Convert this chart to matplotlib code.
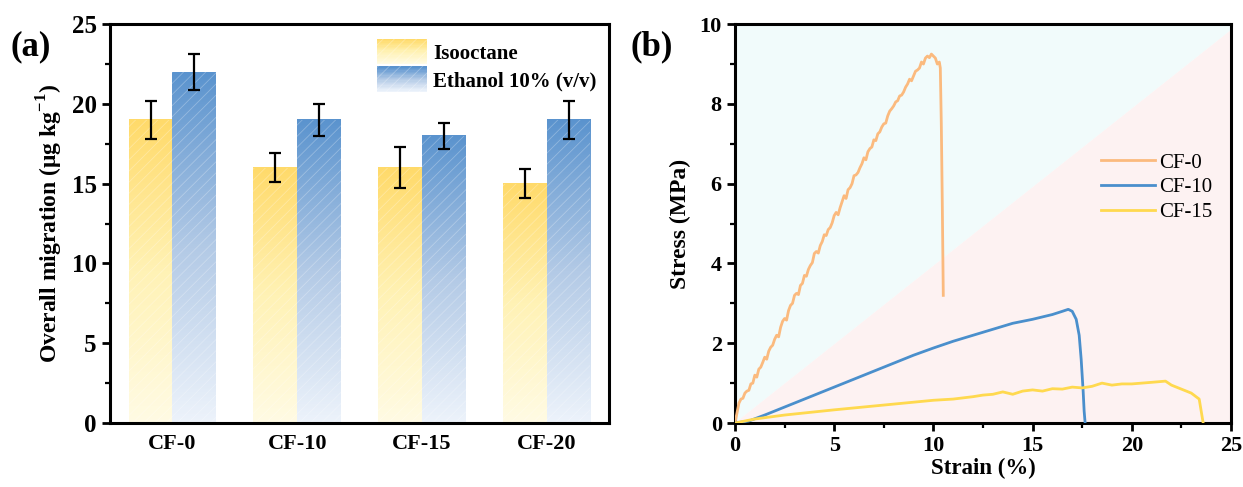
import matplotlib
matplotlib.use("Agg")
import matplotlib.pyplot as plt
import numpy as np
from matplotlib.colors import LinearSegmentedColormap
from matplotlib.legend_handler import HandlerBase
from matplotlib.patches import Rectangle, Patch

plt.rcParams["font.family"] = ["Liberation Serif", "DejaVu Serif"]
plt.rcParams["mathtext.fontset"] = "custom"
plt.rcParams["mathtext.rm"] = "Liberation Serif:bold"
plt.rcParams["mathtext.bf"] = "Liberation Serif:bold"
plt.rcParams["hatch.linewidth"] = 0.6

# --- panel (a): overall migration ---
samples = ["CF-0", "CF-10", "CF-15", "CF-20"]
isooctane = [19, 16, 16, 15]
isooctane_err = [1.2, 0.9, 1.3, 0.9]
ethanol = [22, 19, 18, 19]
ethanol_err = [1.1, 1.0, 0.8, 1.2]

# --- panel (b): tensile curves, strain (%) vs stress (MPa) ---
cf0_strain = [0.0, 0.1, 0.2, 0.3, 0.4, 0.5, 0.6, 0.7, 0.8, 0.9,
              1.0, 1.1, 1.2, 1.3, 1.4, 1.5, 1.6, 1.7, 1.8, 1.9,
              2.0, 2.1, 2.2, 2.3, 2.4, 2.5, 2.6, 2.7, 2.8, 2.9,
              3.0, 3.1, 3.2, 3.3, 3.4, 3.5, 3.6, 3.7, 3.8, 3.9,
              4.0, 4.1, 4.2, 4.3, 4.4, 4.5, 4.6, 4.7, 4.8, 4.9,
              5.0, 5.1, 5.2, 5.3, 5.4, 5.5, 5.6, 5.7, 5.8, 5.9,
              6.0, 6.1, 6.2, 6.3, 6.4, 6.5, 6.6, 6.7, 6.8, 6.9,
              7.0, 7.1, 7.2, 7.3, 7.4, 7.5, 7.6, 7.7, 7.8, 7.9,
              8.0, 8.1, 8.2, 8.3, 8.4, 8.5, 8.6, 8.7, 8.8, 8.9,
              9.0, 9.1, 9.2, 9.3, 9.4, 9.5, 9.6, 9.7, 9.8, 9.9,
              10.0, 10.1, 10.2, 10.3, 10.35, 10.4, 10.45, 10.5]
cf0_stress = [0.0, 0.25, 0.5, 0.6, 0.62, 0.75, 0.8, 0.82, 0.98, 1.0,
              1.2, 1.15, 1.35, 1.4, 1.52, 1.65, 1.6, 1.8, 1.9, 1.95,
              2.1, 2.2, 2.16, 2.4, 2.55, 2.62, 2.58, 2.82, 2.95, 3.0,
              3.2, 3.25, 3.22, 3.45, 3.5, 3.7, 3.68, 3.85, 3.95, 4.02,
              4.25, 4.3, 4.26, 4.45, 4.55, 4.72, 4.7, 4.85, 4.9, 5.02,
              5.2, 5.28, 5.22, 5.4, 5.55, 5.7, 5.63, 5.85, 5.9, 6.0,
              6.2, 6.22, 6.28, 6.4, 6.5, 6.65, 6.6, 6.8, 6.88, 6.92,
              7.1, 7.08, 7.25, 7.3, 7.42, 7.5, 7.52, 7.7, 7.82, 7.88,
              7.95, 8.05, 8.08, 8.2, 8.22, 8.3, 8.42, 8.5, 8.62, 8.58,
              8.7, 8.82, 8.85, 8.9, 9.05, 9.0, 9.15, 9.2, 9.16, 9.25,
              9.2, 9.15, 9.0, 9.05, 8.9, 7.5, 5.5, 3.2]
cf10_strain = [0, 0.7, 1.5, 2.0, 3.0, 4.0, 5.0, 6.0, 7.0, 8.0, 9.0, 10.0, 11.0, 12.0,
               13.0, 14.0, 15.0, 16.0, 16.5, 16.8, 17.0, 17.2, 17.35, 17.45, 17.55,
               17.6, 17.65]
cf10_stress = [0, 0.05, 0.2, 0.3, 0.5, 0.7, 0.9, 1.1, 1.3, 1.5, 1.7, 1.88, 2.05, 2.2,
               2.35, 2.5, 2.6, 2.72, 2.8, 2.85, 2.8, 2.6, 2.2, 1.6, 0.8, 0.3, 0]
cf15_strain = [0, 1.0, 2.5, 5.0, 7.5, 10.0, 11.0, 12.0, 12.5, 13.0, 13.5, 14.0, 14.5,
               15.0, 15.5, 16.0, 16.5, 17.0, 17.5, 18.0, 18.5, 19.0, 19.5, 20.0, 20.5,
               21.0, 21.7, 22.0, 22.5, 23.0, 23.4, 23.5, 23.6]
cf15_stress = [0, 0.1, 0.2, 0.33, 0.45, 0.57, 0.6, 0.66, 0.7, 0.72, 0.78, 0.72, 0.8,
               0.83, 0.8, 0.86, 0.85, 0.9, 0.88, 0.92, 1.0, 0.95, 0.98, 0.98, 1.0,
               1.02, 1.05, 0.95, 0.85, 0.75, 0.6, 0.3, 0]

yellow_map = LinearSegmentedColormap.from_list("yel", ["#FFFBE4", "#FFF2B5", "#FFDA6A"])
blue_map = LinearSegmentedColormap.from_list("blu", ["#EDF3FB", "#B3CAE6", "#5A93CE"])


class GradientHandler(HandlerBase):
    def __init__(self, cmap):
        super().__init__()
        self.cmap = cmap

    def create_artists(self, legend, orig_handle, xdescent, ydescent, width, height,
                       fontsize, trans):
        strips = []
        n = 20
        for i in range(n):
            strips.append(Rectangle((-xdescent, -ydescent + height * i / n), width,
                                    height / n + 0.3, facecolor=self.cmap(i / (n - 1)),
                                    edgecolor="none", transform=trans))
        strips.append(Rectangle((-xdescent, -ydescent), width, height, facecolor="none",
                                edgecolor=(1, 1, 1, 0.3), hatch="///", linewidth=0,
                                transform=trans))
        return strips


def gradient_bar(ax, x, width, top, cmap):
    grad = np.linspace(0, 1, 256).reshape(-1, 1)
    ax.imshow(grad, extent=(x - width / 2, x + width / 2, 0, top), origin="lower",
              cmap=cmap, aspect="auto", zorder=1, interpolation="bilinear")
    ax.bar(x, top, width, facecolor="none", edgecolor=(1, 1, 1, 0.28), hatch="///",
           linewidth=0, zorder=2)


fig = plt.figure(figsize=(12.43, 4.87), dpi=100)
ax1 = fig.add_axes([0.0885, 0.1314, 0.4015, 0.819])
ax2 = fig.add_axes([0.5913, 0.1314, 0.399, 0.819])

pos = np.arange(len(samples))
w = 0.35
for i, p in enumerate(pos):
    gradient_bar(ax1, p - w / 2, w, isooctane[i], yellow_map)
    gradient_bar(ax1, p + w / 2, w, ethanol[i], blue_map)
ax1.errorbar(pos - w / 2, isooctane, yerr=isooctane_err, fmt="none", ecolor="black",
             elinewidth=1.6, capsize=4, capthick=1.6, zorder=3)
ax1.errorbar(pos + w / 2, ethanol, yerr=ethanol_err, fmt="none", ecolor="black",
             elinewidth=1.6, capsize=4, capthick=1.6, zorder=3)
ax1.set_xlim(-0.5, 3.5)
ax1.set_ylim(0, 25)
ax1.set_xticks(pos)
ax1.set_xticklabels(samples)
ax1.set_yticks([0, 5, 10, 15, 20, 25])
ax1.set_yticks(np.arange(2.5, 25, 5), minor=True)
ax1.tick_params(axis="x", length=0, pad=8, labelsize=16)
ax1.tick_params(axis="y", which="major", direction="out", length=6, width=2,
                labelsize=18)
ax1.tick_params(axis="y", which="minor", direction="out", length=3.5, width=1.6)
ax1.set_ylabel(r"Overall migration (μg kg$^{\mathbf{-1}}$)", fontsize=17,
               fontweight="bold", labelpad=5)
h_iso = Patch(label="Isooctane")
h_eth = Patch(label="Ethanol 10% (v/v)")
ax1.legend(handles=[h_iso, h_eth],
           handler_map={h_iso: GradientHandler(yellow_map), h_eth: GradientHandler(blue_map)},
           loc="upper right", bbox_to_anchor=(1.012, 1.01), frameon=False,
           prop={"weight": "bold", "size": 15}, handlelength=2.4, handleheight=1.5,
           handletextpad=0.3, labelspacing=0.1)
ax1.text(-0.2, 0.985, "(a)", transform=ax1.transAxes, fontsize=25,
         fontweight="bold", va="top", ha="left")

# panel (b) background split along the diagonal
ax2.fill([0, 0, 25, 25], [0, 10, 10, 9.85], color="#F1FBFB", zorder=0, linewidth=0)
ax2.fill([0, 25, 25], [0, 0, 9.85], color="#FDF2F2", zorder=0, linewidth=0)
ax2.plot(cf0_strain, cf0_stress, color="#FBBA7E", lw=2, label="CF-0", zorder=3)
ax2.plot(cf10_strain, cf10_stress, color="#4A8FCC", lw=2, label="CF-10", zorder=3)
ax2.plot(cf15_strain, cf15_stress, color="#FFD94F", lw=2, label="CF-15", zorder=3)
ax2.set_xlim(0, 25)
ax2.set_ylim(0, 10)
ax2.set_xticks([0, 5, 10, 15, 20, 25])
ax2.set_xticks(np.arange(2.5, 25, 5), minor=True)
ax2.set_yticks([0, 2, 4, 6, 8, 10])
ax2.set_yticks(np.arange(1, 10, 2), minor=True)
ax2.tick_params(which="major", direction="out", length=6, width=2, labelsize=16)
ax2.tick_params(which="minor", direction="out", length=3.5, width=1.6)
ax2.set_xlabel("Strain (%)", fontsize=16.5, fontweight="bold", labelpad=1)
ax2.set_ylabel("Stress (MPa)", fontsize=17, fontweight="bold", labelpad=6)
ax2.legend(loc="center right", bbox_to_anchor=(1.0, 0.59), frameon=False,
           prop={"size": 15}, handlelength=2.6, handletextpad=0.2, labelspacing=0.25)
ax2.text(-0.21, 0.985, "(b)", transform=ax2.transAxes, fontsize=25,
         fontweight="bold", va="top", ha="left")

for ax in (ax1, ax2):
    for s in ax.spines.values():
        s.set_linewidth(2.2)
    for lab in ax.get_xticklabels() + ax.get_yticklabels():
        lab.set_fontweight("bold")

fig.savefig("out.png", dpi=100)
